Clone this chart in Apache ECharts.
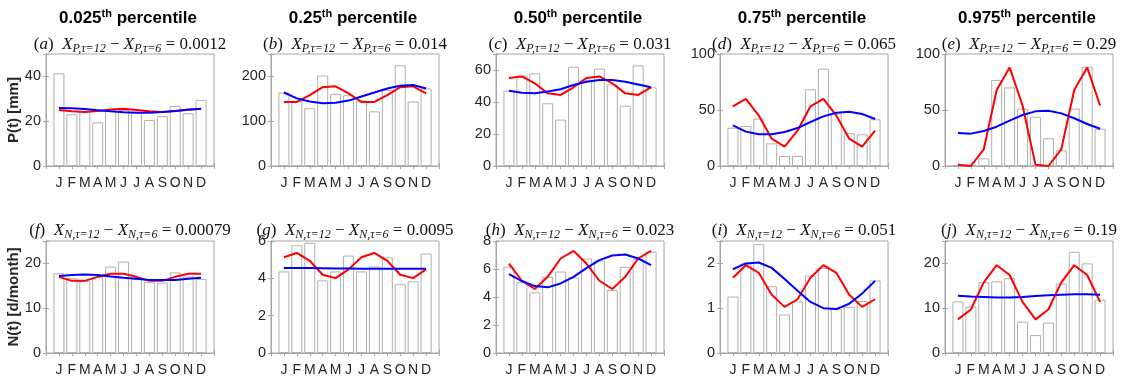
<!DOCTYPE html>
<html>
<head>
<meta charset="utf-8">
<script src="https://cdn.jsdelivr.net/npm/echarts@6/dist/echarts.min.js"></script>
<style>
  html, body { margin: 0; padding: 0; background: #ffffff; }
  #chart { width: 1123px; height: 381px; }
</style>
</head>
<body>
<div id="chart"></div>
<script>
// Month tick labels and panel texts
const months = ['J', 'F', 'M', 'A', 'M', 'J', 'J', 'A', 'S', 'O', 'N', 'D'];
const percentiles = ['0.025', '0.25', '0.50', '0.75', '0.975'];
const pLetters = ['a', 'b', 'c', 'd', 'e'];
const nLetters = ['f', 'g', 'h', 'i', 'j'];
const pDiffs = ['0.0012', '0.014', '0.031', '0.065', '0.29'];
const nDiffs = ['0.00079', '0.0095', '0.023', '0.051', '0.19'];

// Monthly precipitation percentiles P(t) [mm]: observed, 6-month fit, 12-month fit
const p025Obs   = [41.4, 23.1, 24.5, 19.5, 24.8, 25.0, 24.2, 20.5, 22.2, 26.8, 23.5, 29.5];
const p025Tau6  = [25.0, 24.4, 24.1, 24.5, 25.2, 25.6, 25.0, 24.4, 24.1, 24.5, 25.2, 25.6];
const p025Tau12 = [25.9, 25.8, 25.4, 24.9, 24.4, 24.0, 23.8, 23.8, 24.1, 24.6, 25.1, 25.6];

const p25Obs   = [164, 145, 129, 202, 161, 158, 146, 122, 170, 225, 144, 173];
const p25Tau6  = [143, 143, 158, 176, 178, 162, 143, 143, 158, 176, 178, 162];
const p25Tau12 = [164, 151, 144, 140, 141, 146, 155, 164, 173, 179, 181, 173];

const p50Obs   = [47.1, 56.5, 57.9, 39.2, 29.0, 62.0, 54.0, 60.8, 51.0, 37.7, 62.9, 49.2];
const p50Tau6  = [55.0, 56.0, 51.7, 45.4, 44.4, 49.2, 55.0, 56.0, 51.7, 45.4, 44.4, 49.2];
const p50Tau12 = [47.0, 45.8, 45.4, 46.5, 48.0, 50.6, 52.7, 53.7, 53.7, 52.7, 51.0, 49.2];

const p75Obs   = [34.2, 35.7, 42.3, 20.2, 8.9, 8.9, 68.5, 86.9, 47.0, 29.5, 28.3, 41.7];
const p75Tau6  = [53.3, 60.0, 45.0, 24.4, 17.3, 31.5, 53.3, 60.0, 45.0, 24.4, 17.3, 31.5];
const p75Tau12 = [36.3, 30.7, 28.3, 28.3, 30.4, 33.9, 39.3, 44.3, 47.6, 48.5, 46.4, 42.0];

const p975Obs   = [0.9, 0.4, 6.8, 76.8, 70.2, 51.2, 44.0, 24.7, 14.0, 51.2, 88.7, 33.3];
const p975Tau6  = [1.2, 0.0, 14.9, 67.9, 88.0, 54.0, 1.2, 0.0, 14.9, 67.9, 88.0, 54.0];
const p975Tau12 = [29.5, 28.9, 31.3, 35.1, 40.5, 45.5, 48.8, 49.4, 47.0, 42.6, 37.5, 33.3];

// Monthly wet-day count percentiles N(t) [d/month]
const n025Obs   = [17.8, 16.7, 16.1, 17.0, 19.3, 20.4, 16.5, 15.8, 15.7, 18.0, 17.1, 16.5];
const n025Tau6  = [17.0, 16.1, 16.1, 17.0, 17.7, 17.7, 17.0, 16.1, 16.1, 17.0, 17.7, 17.7];
const n025Tau12 = [17.2, 17.4, 17.5, 17.4, 17.1, 16.8, 16.6, 16.3, 16.3, 16.3, 16.6, 16.8];

const n25Obs   = [4.37, 5.77, 5.90, 3.89, 4.37, 5.22, 4.37, 4.64, 5.12, 3.68, 3.84, 5.33];
const n25Tau6  = [5.13, 5.36, 4.94, 4.19, 4.01, 4.48, 5.13, 5.36, 4.94, 4.19, 4.01, 4.48];
const n25Tau12 = [4.55, 4.55, 4.55, 4.54, 4.53, 4.53, 4.52, 4.52, 4.51, 4.51, 4.51, 4.51];

const n50Obs   = [6.18, 5.06, 4.33, 5.44, 5.82, 5.40, 6.75, 6.60, 4.50, 6.15, 6.70, 7.24];
const n50Tau6  = [6.39, 5.16, 4.57, 5.44, 6.75, 7.29, 6.39, 5.16, 4.57, 5.44, 6.75, 7.29];
const n50Tau12 = [5.63, 5.14, 4.78, 4.69, 4.97, 5.44, 6.06, 6.63, 6.96, 7.03, 6.75, 6.27];

const n75Obs   = [1.26, 2.00, 2.43, 1.49, 0.86, 1.15, 1.73, 1.90, 0.98, 1.03, 1.16, 1.62];
const n75Tau6  = [1.68, 1.96, 1.79, 1.30, 1.03, 1.20, 1.68, 1.96, 1.79, 1.30, 1.03, 1.20];
const n75Tau12 = [1.87, 2.00, 2.02, 1.90, 1.65, 1.39, 1.14, 1.00, 0.98, 1.10, 1.33, 1.61];

const n975Obs   = [11.5, 10.4, 15.8, 16.0, 16.7, 7.0, 4.0, 6.8, 15.5, 22.6, 20.0, 11.9];
const n975Tau6  = [7.5, 9.7, 15.75, 19.6, 17.4, 11.4, 7.5, 9.7, 15.75, 19.6, 17.4, 11.4];
const n975Tau12 = [12.8, 12.6, 12.5, 12.4, 12.4, 12.5, 12.7, 12.9, 13.0, 13.1, 13.1, 13.0];

// Axis ranges and tick steps per panel
const pMax = [50, 250, 70, 100, 100];
const pStep = [20, 100, 20, 50, 50];
const nMax = [25, 6, 8, 2.5, 25];
const nStep = [10, 2, 2, 1, 10];

const panels = [
  [p025Obs, p025Tau6, p025Tau12], [p25Obs, p25Tau6, p25Tau12], [p50Obs, p50Tau6, p50Tau12],
  [p75Obs, p75Tau6, p75Tau12], [p975Obs, p975Tau6, p975Tau12],
  [n025Obs, n025Tau6, n025Tau12], [n25Obs, n25Tau6, n25Tau12], [n50Obs, n50Tau6, n50Tau12],
  [n75Obs, n75Tau6, n75Tau12], [n975Obs, n975Tau6, n975Tau12]
];

// Layout
const colLeft = [46, 271, 496, 720, 945];
const boxW = 168, boxH = 112;
const rowTop = [54, 241];
const boxColor = '#a6a6a6';
const textColor = '#262626';
const sans = 'Liberation Sans, Arial, sans-serif';
const serif = 'Liberation Serif, Times New Roman, serif';

const grid = [], xAxis = [], yAxis = [], series = [], graphic = [];

panels.forEach(function (pan, k) {
  const r = Math.floor(k / 5), c = k % 5;
  const ymax = r === 0 ? pMax[c] : nMax[c];
  const ystep = r === 0 ? pStep[c] : nStep[c];
  grid.push({
    left: colLeft[c], top: rowTop[r], width: boxW, height: boxH,
    show: true, borderColor: boxColor, borderWidth: 1, backgroundColor: 'transparent'
  });
  const xBase = {
    type: 'value', gridIndex: k, min: 0, max: 13, interval: 1,
    axisLine: { show: true, lineStyle: { color: boxColor, width: 1 } },
    axisTick: { show: true, inside: true, length: 3, lineStyle: { color: boxColor } },
    splitLine: { show: false }
  };
  xAxis.push(Object.assign({}, xBase, {
    position: 'bottom',
    axisLabel: {
      color: textColor, fontSize: 14, fontFamily: sans, margin: 10,
      formatter: function (v) { return (v >= 1 && v <= 12) ? months[v - 1] : ''; }
    }
  }));
  xAxis.push(Object.assign({}, xBase, { position: 'top', axisLabel: { show: false } }));
  const yBase = {
    type: 'value', gridIndex: k, min: 0, max: ymax, interval: ystep,
    axisLine: { show: true, lineStyle: { color: boxColor, width: 1 } },
    axisTick: { show: true, inside: true, length: 3, lineStyle: { color: boxColor } },
    splitLine: { show: false }
  };
  yAxis.push(Object.assign({}, yBase, {
    position: 'left',
    axisLabel: {
      color: textColor, fontSize: 14.5, fontFamily: sans, margin: 5,
      formatter: function (v) { return Math.abs(v / ystep - Math.round(v / ystep)) < 1e-6 ? String(v) : ''; }
    },
    name: c === 0 ? (r === 0 ? 'P(t) [mm]' : 'N(t) [d/month]') : '',
    nameLocation: 'middle', nameRotate: 90, nameGap: 18,
    nameTextStyle: { color: textColor, fontSize: 15, fontWeight: 'bold', fontFamily: sans }
  }));
  yAxis.push(Object.assign({}, yBase, { position: 'right', axisLabel: { show: false } }));

  const xb = 2 * k, yl = 2 * k;
  series.push({
    type: 'bar', xAxisIndex: xb, yAxisIndex: yl, barWidth: 11,
    data: pan[0].map(function (v, i) { return [i + 1, v]; }),
    itemStyle: { color: '#ffffff', borderColor: '#b0b0b0', borderWidth: 1 },
    silent: true
  });
  series.push({
    type: 'line', xAxisIndex: xb, yAxisIndex: yl, showSymbol: false,
    data: pan[1].map(function (v, i) { return [i + 1, v]; }),
    lineStyle: { color: '#ff0000', width: 2 }, z: 3
  });
  series.push({
    type: 'line', xAxisIndex: xb, yAxisIndex: yl, showSymbol: false,
    data: pan[2].map(function (v, i) { return [i + 1, v]; }),
    lineStyle: { color: '#0000ff', width: 2 }, z: 4
  });

  // Panel subtitle: (x) X_{V,tau=12} - X_{V,tau=6} = d
  const letter = r === 0 ? pLetters[c] : nLetters[c];
  const v = r === 0 ? 'P' : 'N';
  const diff = r === 0 ? pDiffs[c] : nDiffs[c];
  graphic.push({
    type: 'text', x: colLeft[c] + boxW / 2, y: r === 0 ? 45 : 231, z: 10,
    style: {
      text: '{n|(}{i|' + letter + '}{n|)  }{i|X}{s|' + v + ',τ=12}{n| − }{i|X}{s|' + v + ',τ=6}{n| = ' + diff + '}',
      align: 'center', verticalAlign: 'middle',
      rich: {
        n: { fontFamily: serif, fontSize: 17, lineHeight: 20, fill: '#111' },
        i: { fontFamily: serif, fontSize: 17, fontStyle: 'italic', lineHeight: 20, fill: '#111' },
        s: { fontFamily: serif, fontSize: 12, fontStyle: 'italic', lineHeight: 11, verticalAlign: 'bottom', fill: '#111' }
      }
    }
  });
  // Column heading
  if (r === 0) {
    graphic.push({
      type: 'text', x: colLeft[c] + boxW / 2 - 2, y: 18, z: 10,
      style: {
        text: '{b|' + percentiles[c] + '}{s|th}{b| percentile}',
        align: 'center', verticalAlign: 'middle',
        rich: {
          b: { fontFamily: sans, fontSize: 17, fontWeight: 'bold', lineHeight: 20, fill: '#000' },
          s: { fontFamily: sans, fontSize: 11, fontWeight: 'bold', lineHeight: 10, verticalAlign: 'top', fill: '#000' }
        }
      }
    });
  }
});

const chart = echarts.init(document.getElementById('chart'), null, { renderer: 'canvas' });
chart.setOption({
  animation: false,
  backgroundColor: '#ffffff',
  grid: grid, xAxis: xAxis, yAxis: yAxis, series: series, graphic: graphic
});
</script>
</body>
</html>
